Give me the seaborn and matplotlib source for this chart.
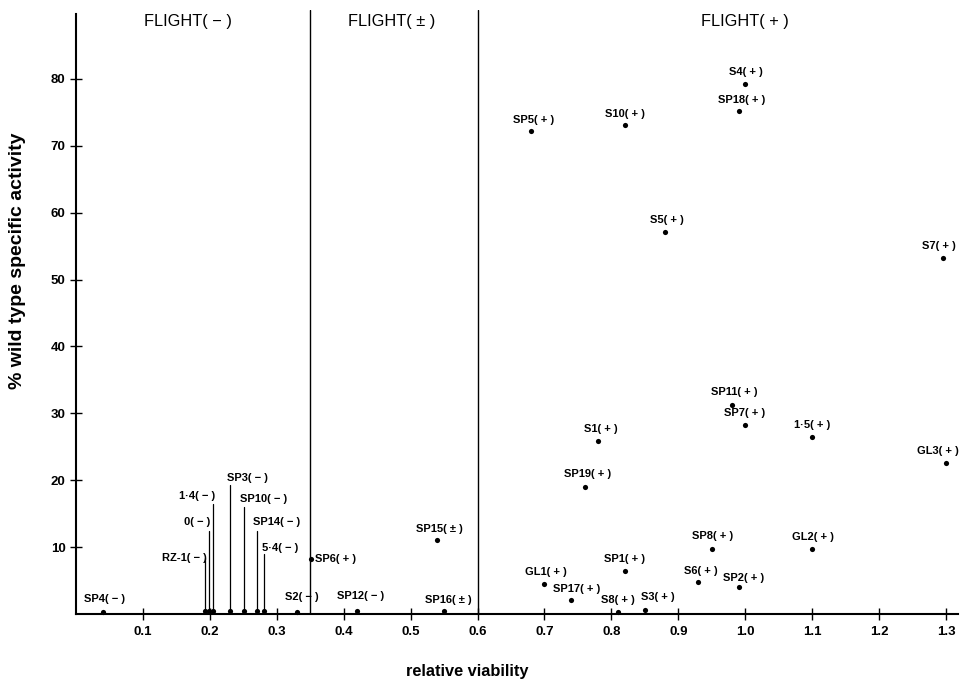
import matplotlib
matplotlib.use("Agg")
import matplotlib.pyplot as plt
import seaborn as sns
import pandas as pd

# ---------------- data ----------------
names = ["SP4( − )", "S2( − )", "SP6( + )", "SP12( − )", "SP15( ± )", "SP16( ± )",
         "GL1( + )", "SP17( + )", "S8( + )", "S3( + )", "SP1( + )", "S6( + )",
         "SP2( + )", "SP8( + )", "GL2( + )", "SP19( + )", "S1( + )", "SP7( + )",
         "SP11( + )", "1·5( + )", "GL3( + )", "S7( + )", "S5( + )", "SP5( + )",
         "S10( + )", "S4( + )", "SP18( + )"]
viability = [0.04, 0.33, 0.351, 0.42, 0.54, 0.55,
             0.70, 0.74, 0.81, 0.85, 0.82, 0.93,
             0.99, 0.95, 1.10, 0.76, 0.78, 1.00,
             0.98, 1.10, 1.30, 1.295, 0.88, 0.68,
             0.82, 1.00, 0.99]
activity = [0.3, 0.3, 8.2, 0.5, 11.1, 0.5,
            4.5, 2.1, 0.3, 0.6, 6.4, 4.8,
            4.1, 9.7, 9.7, 19.0, 25.8, 28.2,
            31.2, 26.5, 22.6, 53.2, 57.1, 72.2,
            73.1, 79.3, 75.2]

# mutants on the axis with leader lines up to their labels
cluster_names = ["RZ-1( − )", "0( − )", "1·4( − )", "SP3( − )", "SP10( − )", "SP14( − )", "5·4( − )"]
cluster_viability = [0.193, 0.199, 0.205, 0.230, 0.251, 0.271, 0.281]
cluster_activity = [0.4, 0.4, 0.4, 0.4, 0.4, 0.4, 0.4]
cluster_label_level = [8.4, 13.7, 17.7, 20.3, 17.2, 13.7, 9.9]

class_names = ["FLIGHT( − )", "FLIGHT( ± )", "FLIGHT( + )"]
class_centers = [0.167, 0.472, 1.0]
class_bounds = [0.35, 0.6]

x_ticks = [0.1, 0.2, 0.3, 0.4, 0.5, 0.6, 0.7, 0.8, 0.9, 1.0, 1.1, 1.2, 1.3]
x_tick_labels = ["0.1", "0.2", "0.3", "0.4", "0.5", "0.6", "0.7", "0.8", "0.9", "1.0", "1.1", "1.2", "1.3"]
y_ticks = [10, 20, 30, 40, 50, 60, 70, 80]
y_tick_labels = ["10", "20", "30", "40", "50", "60", "70", "80"]

# label offsets in pixels (dx, dy) relative to the point  -- styling only
px = 72.0 / 100.0
label_offsets = {
    "SP4( − )": (2, 13), "S2( − )": (5, 15), "SP12( − )": (4, 15), "SP15( ± )": (2, 11),
    "SP16( ± )": (4, 11), "GL1( + )": (1, 12), "SP17( + )": (5, 11), "S8( + )": (0, 12),
    "S3( + )": (13, 13), "SP1( + )": (0, 12), "S6( + )": (2, 11), "SP2( + )": (5, 9),
    "SP8( + )": (1, 13), "GL2( + )": (1, 12), "SP19( + )": (3, 13), "S1( + )": (3, 12),
    "SP7( + )": (-1, 12), "SP11( + )": (2, 13), "1·5( + )": (0, 12), "GL3( + )": (-8, 12),
    "S7( + )": (-4, 12), "S5( + )": (2, 12), "SP5( + )": (3, 11), "S10( + )": (0, 11),
    "S4( + )": (1, 12), "SP18( + )": (3, 11),
}
cluster_style = {  # (ha, dx px, line gap in data units)
    "RZ-1( − )": ("right", 2, 0.0), "0( − )": ("right", 1, 1.3), "1·4( − )": ("right", 2, 1.3),
    "SP3( − )": ("left", -3, 1.0), "SP10( − )": ("left", -4, 1.2), "SP14( − )": ("left", -4, 1.3),
    "5·4( − )": ("left", -2, 1.0),
}

# ---------------- figure ----------------
sns.set_style("white")
plt.rcParams["font.family"] = ["Liberation Sans", "DejaVu Sans"]
plt.rcParams["text.color"] = "black"
plt.rcParams["axes.labelcolor"] = "black"
plt.rcParams["xtick.color"] = "black"
plt.rcParams["ytick.color"] = "black"

fig = plt.figure(figsize=(9.62, 6.86), dpi=100)
ax = fig.add_axes([76 / 962, 72 / 686, 882 / 962, 604 / 686])

df = pd.DataFrame({"viability": viability + cluster_viability,
                   "activity": activity + cluster_activity})
sns.scatterplot(data=df, x="viability", y="activity", ax=ax, color="black",
                s=14, linewidth=0, zorder=4, clip_on=False)

ax.set_xlim(0, 1.318)
ax.set_ylim(0, 90.3)

# class boundaries
for b in class_bounds:
    ax.axvline(b, color="black", lw=1.0, zorder=2)
for n, c in zip(class_names, class_centers):
    ax.text(c, 88.6, n, ha="center", va="center", fontsize=11.8, color="black")

# point labels
lab_font = dict(fontsize=8, fontweight="bold", color="black")
for n, xv, yv in zip(names, viability, activity):
    if n == "SP6( + )":
        ax.annotate(n, (xv, yv), xytext=(4 * px, 0), textcoords="offset points",
                    ha="left", va="center", **lab_font)
    else:
        dx, dy = label_offsets[n]
        ax.annotate(n, (xv, yv), xytext=(dx * px, dy * px), textcoords="offset points",
                    ha="center", va="center", **lab_font)

# cluster labels with leader lines
for n, xv, yv, ly in zip(cluster_names, cluster_viability, cluster_activity, cluster_label_level):
    ha, dx, gap = cluster_style[n]
    ax.plot([xv, xv], [yv, ly - gap], color="black", lw=0.9, zorder=3)
    ax.annotate(n, (xv, ly), xytext=(dx * px, 0), textcoords="offset points",
                ha=ha, va="center", **lab_font)

# axes styling
for s in ["top", "right"]:
    ax.spines[s].set_visible(False)
for s in ["left", "bottom"]:
    ax.spines[s].set_linewidth(1.5)
    ax.spines[s].set_color("black")
ax.spines["left"].set_bounds(0, 89.7)

ax.set_xticks(x_ticks)
ax.set_xticklabels(x_tick_labels, fontsize=9.5, fontweight="bold", color="black")
ax.set_yticks(y_ticks)
ax.set_yticklabels(y_tick_labels, fontsize=9.5, fontweight="bold", color="black")
ax.tick_params(axis="both", which="major", bottom=True, left=True, top=False, right=False,
               direction="inout", length=9, width=1.0, color="black")
ax.tick_params(axis="x", pad=4)
ax.tick_params(axis="y", pad=3)

ax.set_xlabel("relative viability", fontsize=11.8, fontweight="bold", color="black")
ax.set_ylabel("% wild type specific activity", fontsize=14, fontweight="bold", color="black")
ax.xaxis.set_label_coords(0.444, -0.083)
ax.yaxis.set_label_coords(-0.057, 0.585)
ax.grid(False)

fig.savefig("out.png", dpi=100)
